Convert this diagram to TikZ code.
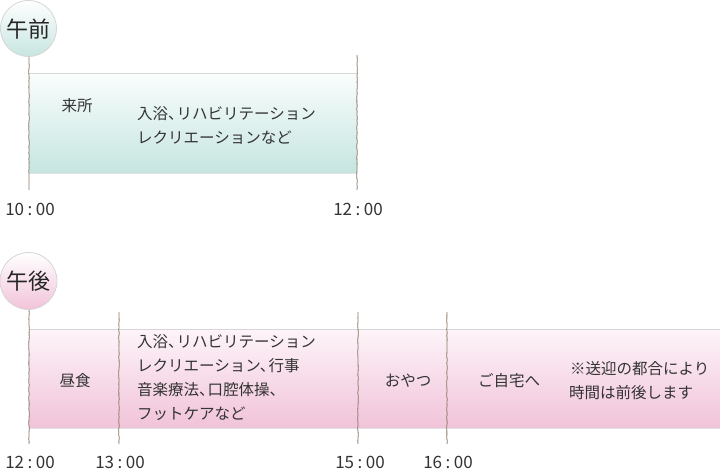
\documentclass[tikz,border=0pt]{standalone}
\usepackage{fontspec}
\setmainfont{Noto Sans CJK JP}
\usetikzlibrary{decorations.pathmorphing}
\definecolor{txt}{HTML}{333333}
\definecolor{tealbot}{HTML}{C6E5E0}
\definecolor{tealtop}{HTML}{F9FDFC}
\definecolor{pinkbot}{HTML}{F1C3D9}
\definecolor{pinktop}{HTML}{FDF4F9}
\definecolor{rim}{HTML}{D6D6D6}
\definecolor{tick}{HTML}{8A7868}
\newcommand{\tcomma}{、\kern-0.45em}
\newcommand{\tcolon}{\kern3.5pt:\kern3.5pt}
\tikzset{
  lbl/.style={text=txt, font=\fontsize{15.5}{24}\selectfont, inner sep=0pt},
  timelbl/.style={text=txt, font=\fontsize{17}{18}\selectfont, inner sep=0pt},
  circlbl/.style={text=black!85, font=\fontsize{22}{24}\selectfont, inner sep=0pt},
  tickline/.style={draw=tick, line width=0.8pt, decorate, decoration={random steps, segment length=3pt, amplitude=0.35pt}},
  rimline/.style={draw=rim, line width=1pt}
}
\begin{document}
\begin{tikzpicture}[x=1pt,y=-1pt]
\useasboundingbox (0,0) rectangle (720,470);
% ---------- morning ----------
\shade[top color=tealtop, bottom color=tealbot] (29,74) rectangle (357,173);
\draw[rimline] (29,74) -- (357,74);
\draw[draw=rim!70, line width=0.8pt] (29,173) -- (357,173);
\shade[top color=white, bottom color=tealbot, draw=rim, line width=0.8pt] (28.5,28.5) circle (28);
\node[circlbl] (am) at (28.5,29) {午前};
\draw[tickline] (29,57) -- (29,190);
\draw[tickline] (357,55) -- (357,190);
\node[lbl] (raisho) at (77,106) {来所};
\node[lbl, anchor=west, align=left] (amact) at (137,125) {入浴\tcomma リハビリテーション\\レクリエーションなど};
\node[timelbl] (t10) at (30,209) {10\tcolon 00};
\node[timelbl] (t12a) at (358,209) {12\tcolon 00};
% ---------- afternoon ----------
\shade[top color=pinktop, bottom color=pinkbot] (29,329) rectangle (720,428);
\draw[rimline] (29,329) -- (720,329);
\draw[draw=rim!70, line width=0.8pt] (29,428) -- (720,428);
\shade[top color=white, bottom color=pinkbot, draw=rim, line width=0.8pt] (28.5,281) circle (28.5);
\node[circlbl] (pm) at (28.5,281.5) {午後};
\draw[tickline] (29,310) -- (29,444);
\draw[tickline] (119,312) -- (119,444);
\draw[tickline] (358,312) -- (358,444);
\draw[tickline] (447,312) -- (447,444);
\node[lbl] (chushoku) at (75,381) {昼食};
\node[lbl, anchor=west, align=left] (pmact) at (137,378) {入浴\tcomma リハビリテーション\\レクリエーション\tcomma 行事\\音楽療法\tcomma 口腔体操\tcomma \\フットケアなど};
\node[lbl] (oyatsu) at (408,381) {おやつ};
\node[lbl] (gojitaku) at (509,381) {ご自宅へ};
\node[lbl, anchor=west, align=left] (note) at (569,381) {\hspace{1pt}※送迎の都合により\\時間は前後します};
\node[timelbl] (t12b) at (30,462) {12\tcolon 00};
\node[timelbl] (t13) at (120,462) {13\tcolon 00};
\node[timelbl] (t15) at (360,462) {15\tcolon 00};
\node[timelbl] (t16) at (448,462) {16\tcolon 00};
\end{tikzpicture}
\end{document}
